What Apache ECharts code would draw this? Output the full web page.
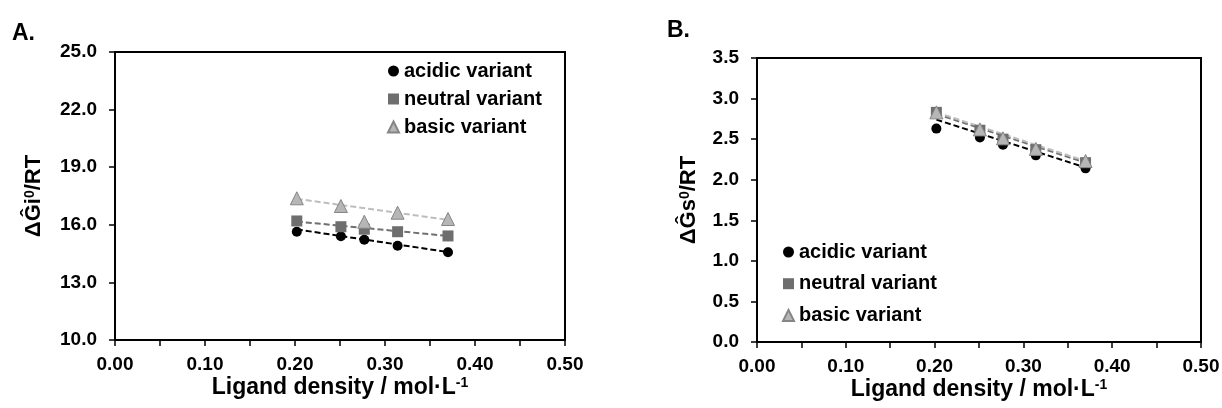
<!DOCTYPE html>
<html><head><meta charset="utf-8">
<script src="https://cdn.jsdelivr.net/npm/echarts@6/dist/echarts.min.js"></script>
<style>html,body{margin:0;padding:0;background:#fff}#c{width:1222px;height:408px}</style>
</head><body><div id="c"></div>
<script>
// ---- data ----
const seriesNames = ['acidic variant', 'neutral variant', 'basic variant'];
const density = [0.202, 0.251, 0.277, 0.314, 0.370];

// Panel A: ΔĜi0/RT
const giAcidic  = [15.64, 15.40, 15.22, 14.91, 14.57];
const giNeutral = [16.20, 15.90, 15.77, 15.64, 15.42];
const giBasic   = [17.38, 16.98, 16.16, 16.63, 16.30];
// dashed trend lines, end points
const trendX = [0.202, 0.370];
const giTrendAcidic  = [15.76, 14.58];
const giTrendNeutral = [16.17, 15.42];
const giTrendBasic   = [17.35, 16.26];

// Panel B: ΔĜs0/RT
const gsAcidic  = [2.63, 2.52, 2.43, 2.30, 2.14];
const gsNeutral = [2.83, 2.61, 2.50, 2.37, 2.21];
const gsBasic   = [2.83, 2.62, 2.51, 2.38, 2.23];
const gsTrendAcidic  = [2.74, 2.15];
const gsTrendNeutral = [2.81, 2.21];
const gsTrendBasic   = [2.83, 2.23];

// axes
const xRange = [0, 0.5], xStep = 0.1;
const yRangeA = [10, 25], yStepA = 3;
const yRangeB = [0, 3.5], yStepB = 0.5;
const panelLabels = ['A.', 'B.'];
const yTitleA = ['ΔĜi', '0', '/RT'];
const yTitleB = ['ΔĜs', '0', '/RT'];
const xTitle = ['Ligand density / mol·L', '-1'];

// ---- build ----
const FF = "'Liberation Sans', Arial, Helvetica, sans-serif";
const pair = (xs, ys) => xs.map((x, i) => [x, ys[i]]);
const markStyles = [
  { symbol: 'circle', symbolSize: 10, itemStyle: { color: '#000000', opacity: 1 } },
  { symbol: 'rect', symbolSize: 11, itemStyle: { color: '#6e6e6e', opacity: 1 } },
  { symbol: 'triangle', symbolSize: 13, itemStyle: { color: '#b6b6b6', borderColor: '#858585', borderWidth: 1, opacity: 1 } }
];
const trendColors = ['#000000', '#707070', '#bdbdbd'];

function scatter(i, idx, ys) {
  return Object.assign({
    type: 'scatter', name: seriesNames[i], xAxisIndex: idx, yAxisIndex: idx,
    data: pair(density, ys), z: 3 + i
  }, JSON.parse(JSON.stringify(markStyles[i])));
}
function trend(i, idx, ys) {
  return {
    type: 'line', name: 'trend' + idx + '_' + i, xAxisIndex: idx, yAxisIndex: idx,
    data: pair(trendX, ys), showSymbol: false, symbol: 'none', silent: true, z: 2,
    lineStyle: { color: trendColors[i], width: 2, type: [6, 3] }
  };
}
function xAxis(idx) {
  return {
    gridIndex: idx, type: 'value', min: xRange[0], max: xRange[1], interval: xStep,
    axisLine: { show: true, onZero: false, lineStyle: { color: '#000', width: 2 } },
    axisTick: { show: true, inside: false, length: 6, lineStyle: { color: '#000', width: 1.5 } },
    minorTick: { show: true, splitNumber: 2, length: 6, lineStyle: { color: '#000', width: 1.5 } },
    splitLine: { show: false },
    axisLabel: { fontFamily: FF, fontSize: 19, fontWeight: 'bold', color: '#000', margin: 15,
      formatter: v => v.toFixed(2) },
    name: '{a|' + xTitle[0] + '}{s|' + xTitle[1] + '}',
    nameLocation: 'middle', nameGap: 36, nameMoveOverlap: false,
    nameTextStyle: { fontFamily: FF, color: '#000',
      rich: { a: { fontFamily: FF, fontSize: 23, fontWeight: 'bold', color: '#000' },
              s: { fontFamily: FF, fontSize: 14, fontWeight: 'bold', color: '#000', verticalAlign: 'top' } } }
  };
}
function yAxis(idx, range, step, dec, title, gap) {
  return {
    gridIndex: idx, type: 'value', min: range[0], max: range[1], interval: step,
    axisLine: { show: true, onZero: false, lineStyle: { color: '#000', width: 2 } },
    axisTick: { show: true, inside: false, length: 6, lineStyle: { color: '#000', width: 1.5 } },
    splitLine: { show: false },
    axisLabel: { fontFamily: FF, fontSize: 19, fontWeight: 'bold', color: '#000', margin: 18,
      formatter: v => v.toFixed(dec) },
    name: '{a|' + title[0] + '}{s|' + title[1] + '}{a|' + title[2] + '}',
    nameLocation: 'middle', nameGap: gap, nameRotate: 90, nameMoveOverlap: false,
    nameTextStyle: { fontFamily: FF, color: '#000',
      rich: { a: { fontFamily: FF, fontSize: 22, fontWeight: 'bold', color: '#000' },
              s: { fontFamily: FF, fontSize: 14, fontWeight: 'bold', color: '#000', verticalAlign: 'top' } } }
  };
}
function legend(left, top, gap) {
  return {
    orient: 'vertical', left: left, top: top, padding: 0, itemGap: gap,
    itemWidth: 11, itemHeight: 11, selectedMode: false,
    data: seriesNames,
    textStyle: { fontFamily: FF, fontSize: 20, fontWeight: 'bold', color: '#000', lineHeight: 20 }
  };
}

const option = {
  animation: false,
  backgroundColor: '#fff',
  title: [
    { text: panelLabels[0], left: 12, top: 22, padding: 0, textStyle: { fontFamily: FF, fontSize: 23, fontWeight: 'bold', color: '#000' } },
    { text: panelLabels[1], left: 667, top: 19, padding: 0, textStyle: { fontFamily: FF, fontSize: 23, fontWeight: 'bold', color: '#000' } }
  ],
  grid: [
    { left: 115, top: 52, width: 450, height: 288, show: true, borderColor: '#000', borderWidth: 2, containLabel: false, outerBoundsMode: 'none' },
    { left: 757, top: 58, width: 444, height: 284, show: true, borderColor: '#000', borderWidth: 2, containLabel: false, outerBoundsMode: 'none' }
  ],
  xAxis: [xAxis(0), xAxis(1)],
  yAxis: [
    yAxis(0, yRangeA, yStepA, 1, yTitleA, 70),
    yAxis(1, yRangeB, yStepB, 1, yTitleB, 57)
  ],
  legend: [legend(387, 61, 8), legend(782, 242, 11.7)],
  series: [
    trend(0, 0, giTrendAcidic), trend(1, 0, giTrendNeutral), trend(2, 0, giTrendBasic),
    scatter(0, 0, giAcidic), scatter(1, 0, giNeutral), scatter(2, 0, giBasic),
    trend(0, 1, gsTrendAcidic), trend(1, 1, gsTrendNeutral), trend(2, 1, gsTrendBasic),
    scatter(0, 1, gsAcidic), scatter(1, 1, gsNeutral), scatter(2, 1, gsBasic)
  ]
};
const chart = echarts.init(document.getElementById('c'), null, { renderer: 'canvas' });
chart.setOption(option);
</script></body></html>
